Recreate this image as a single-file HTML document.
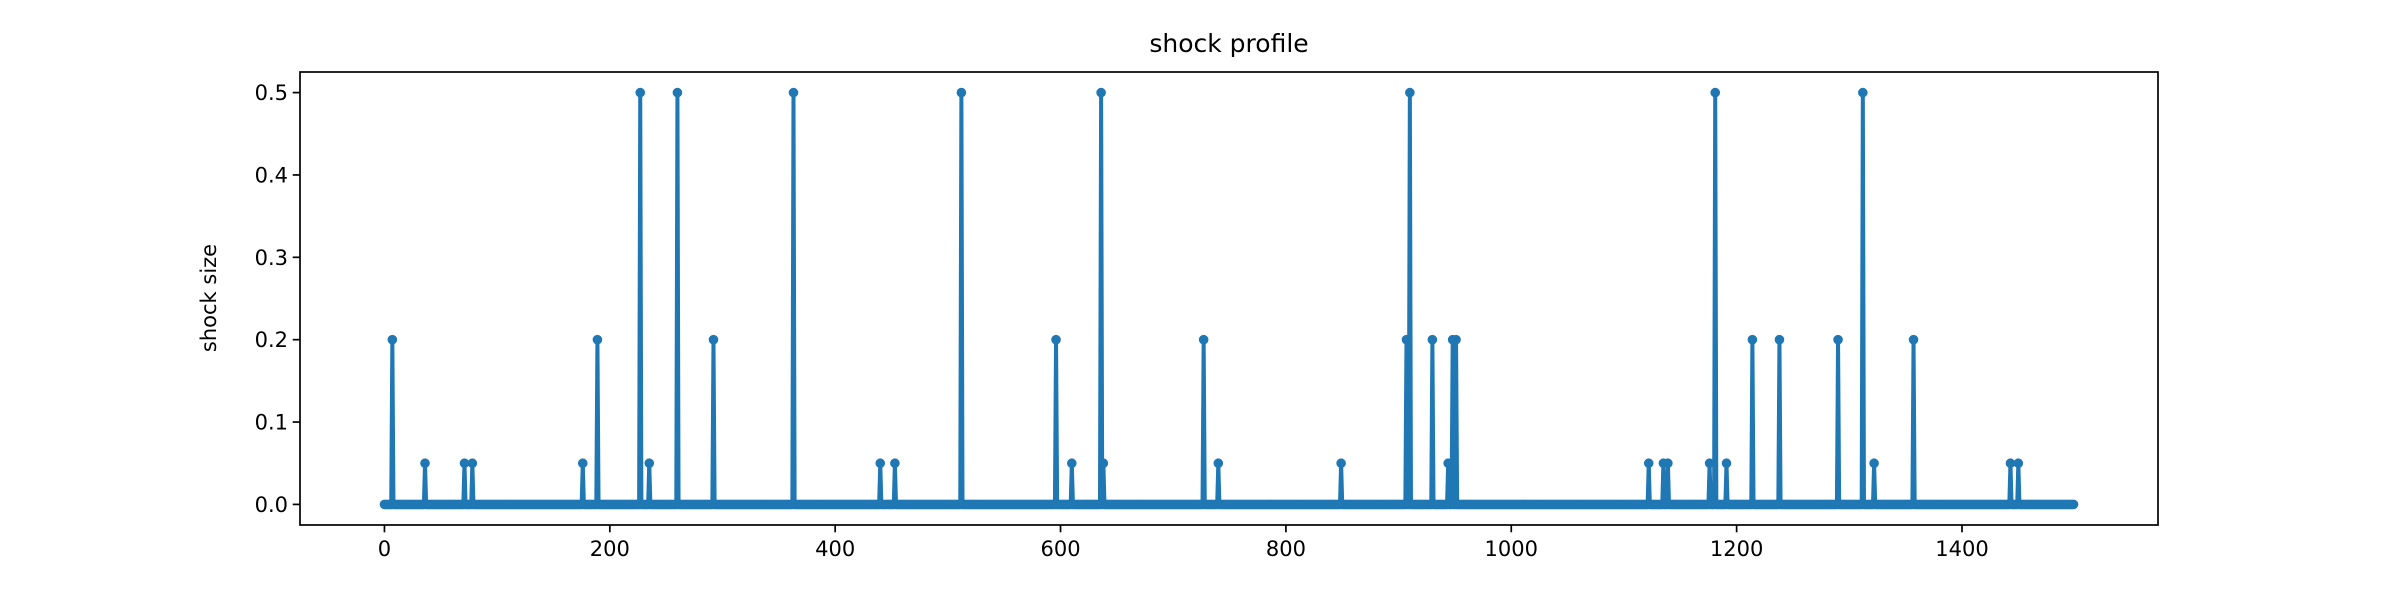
<!DOCTYPE html>
<html><head><meta charset="utf-8"><style>
body{margin:0;background:#fff}
svg text{font-family:"DejaVu Sans","Liberation Sans",sans-serif;fill:#000}
</style></head><body>
<svg id="chart" width="2400" height="600" viewBox="0 0 2400 600" xmlns="http://www.w3.org/2000/svg">
<rect x="0" y="0" width="2400" height="600" fill="#fff"/>
<text x="1229" y="52" font-size="25" text-anchor="middle">shock profile</text>
<text transform="translate(216,298) rotate(-90)" font-size="21" text-anchor="middle">shock size</text>
<g id="plot"></g>
<rect x="300" y="72" width="1858" height="453" fill="none" stroke="#000" stroke-width="1.7"/>
<g id="xticks"></g>
<g id="yticks"></g>
</svg>
<script>
const seriesLength = 1500;
const spikeIndices = [7,36,71,78,176,189,227,235,260,292,363,440,453,512,596,610,636,638,727,740,849,907,910,930,944,948,951,1122,1135,1139,1176,1181,1191,1214,1238,1290,1312,1322,1357,1443,1450];
const spikeValues  = [0.2,0.05,0.05,0.05,0.05,0.2,0.5,0.05,0.5,0.2,0.5,0.05,0.05,0.5,0.2,0.05,0.5,0.05,0.2,0.05,0.05,0.2,0.5,0.2,0.05,0.2,0.2,0.05,0.05,0.05,0.05,0.5,0.05,0.2,0.2,0.2,0.5,0.05,0.2,0.05,0.05];
const xTicks = [0,200,400,600,800,1000,1200,1400];
const yTicks = [0.0,0.1,0.2,0.3,0.4,0.5];
const yTickLabels = ["0.0","0.1","0.2","0.3","0.4","0.5"];

const NS = "http://www.w3.org/2000/svg";
const X0 = 300, X1 = 2158, Y0 = 72, Y1 = 525;
const xMin = -0.05*(seriesLength-1), xMax = (seriesLength-1)*1.05;
const yMin = -0.025, yMax = 0.525;
const sx = v => X0 + (v - xMin) / (xMax - xMin) * (X1 - X0);
const sy = v => Y1 - (v - yMin) / (yMax - yMin) * (Y1 - Y0);

const values = new Array(seriesLength).fill(0);
spikeIndices.forEach((idx, k) => { values[idx] = spikeValues[k]; });

const plot = document.getElementById('plot');
let d = '';
values.forEach((v, i) => { d += (i ? 'L' : 'M') + sx(i).toFixed(2) + ' ' + sy(v).toFixed(2); });
const line = document.createElementNS(NS, 'path');
line.setAttribute('d', d);
line.setAttribute('fill', 'none');
line.setAttribute('stroke', '#1f77b4');
line.setAttribute('stroke-width', '4');
line.setAttribute('stroke-linejoin', 'round');


plot.appendChild(line);

let md = '';
values.forEach((v, i) => {
  const cx = sx(i), cy = sy(v), r = 4.8;
  md += `M${(cx - r).toFixed(2)} ${cy.toFixed(2)}a${r} ${r} 0 1 0 ${2*r} 0a${r} ${r} 0 1 0 ${-2*r} 0`;
});
const markers = document.createElementNS(NS, 'path');
markers.setAttribute('d', md);
markers.setAttribute('fill', '#1f77b4');


plot.appendChild(markers);

const xg = document.getElementById('xticks');
xTicks.forEach(t => {
  const x = sx(t);
  const tk = document.createElementNS(NS, 'line');
  tk.setAttribute('x1', x); tk.setAttribute('x2', x);
  tk.setAttribute('y1', Y1); tk.setAttribute('y2', Y1 + 7.3);
  tk.setAttribute('stroke', '#000'); tk.setAttribute('stroke-width', '1.7');
  
  
  xg.appendChild(tk);
  const tx = document.createElementNS(NS, 'text');
  tx.setAttribute('x', x); tx.setAttribute('y', Y1 + 31);
  tx.setAttribute('font-size', '21'); tx.setAttribute('text-anchor', 'middle');
  tx.textContent = String(t);
  
  
  xg.appendChild(tx);
});
const yg = document.getElementById('yticks');
yTicks.forEach((t, k) => {
  const y = sy(t);
  const tk = document.createElementNS(NS, 'line');
  tk.setAttribute('x1', X0 - 7.3); tk.setAttribute('x2', X0);
  tk.setAttribute('y1', y); tk.setAttribute('y2', y);
  tk.setAttribute('stroke', '#000'); tk.setAttribute('stroke-width', '1.7');
  
  
  yg.appendChild(tk);
  const tx = document.createElementNS(NS, 'text');
  tx.setAttribute('x', X0 - 12); tx.setAttribute('y', y + 7.5);
  tx.setAttribute('font-size', '21'); tx.setAttribute('text-anchor', 'end');
  tx.textContent = yTickLabels[k];
  
  
  yg.appendChild(tx);
});
</script>
</body></html>
